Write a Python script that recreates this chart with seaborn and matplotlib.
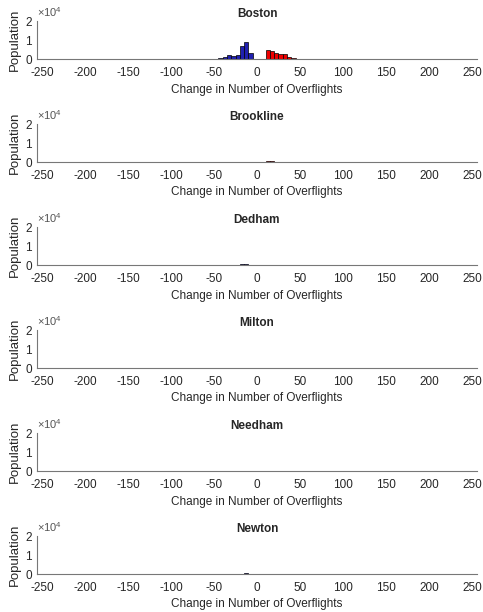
import numpy as np
import pandas as pd
import matplotlib
matplotlib.use("Agg")
import matplotlib.pyplot as plt
import matplotlib.ticker as mticker
import seaborn as sns

# towns shown, top to bottom
towns = ["Boston", "Brookline", "Dedham", "Milton", "Needham", "Newton"]

# histogram bins (width 5) for decreases (blue) and increases (red)
neg_edges = [-45, -40, -35, -30, -25, -20, -15, -10, -5]
pos_edges = [10, 15, 20, 25, 30, 35, 40, 45]

# population per bin
neg_counts = {
    "Boston":    [500, 1300, 2300, 1500, 2300, 6800, 9000, 3000],
    "Brookline": [0, 0, 0, 0, 0, 0, 0, 0],
    "Dedham":    [0, 0, 0, 0, 0, 450, 450, 0],
    "Milton":    [0, 0, 0, 0, 0, 0, 0, 0],
    "Needham":   [0, 0, 0, 0, 0, 0, 0, 0],
    "Newton":    [0, 0, 0, 0, 0, 0, 350, 0],
}
pos_counts = {
    "Boston":    [4500, 4200, 3300, 2700, 2400, 1300, 400],
    "Brookline": [300, 300, 0, 0, 0, 0, 0],
    "Dedham":    [0, 0, 0, 0, 0, 0, 0],
    "Milton":    [0, 0, 0, 0, 0, 0, 0],
    "Needham":   [0, 0, 0, 0, 0, 0, 0],
    "Newton":    [0, 0, 0, 0, 0, 0, 0],
}

sns.set_style("white")
plt.rcParams["font.family"] = ["Liberation Sans", "DejaVu Sans"]
plt.rcParams["font.size"] = 8
plt.rcParams["text.color"] = "#262626"
plt.rcParams["axes.labelcolor"] = "#262626"
plt.rcParams["xtick.color"] = "#262626"
plt.rcParams["ytick.color"] = "#262626"
plt.rcParams["mathtext.default"] = "regular"
plt.rcParams["axes.unicode_minus"] = False

fig = plt.figure(figsize=(4.83, 6.12), dpi=100)
W, H = 483, 612

for i, town in enumerate(towns):
    y_bottom = 59 + i * 103
    ax = fig.add_axes([37 / W, 1 - y_bottom / H, 440 / W, 38 / H])

    neg_df = pd.DataFrame({
        "x": np.array(neg_edges[:-1]) + 2.5,
        "w": neg_counts[town],
    })
    pos_df = pd.DataFrame({
        "x": np.array(pos_edges[:-1]) + 2.5,
        "w": pos_counts[town],
    })
    sns.histplot(data=neg_df, x="x", weights="w", bins=neg_edges, ax=ax,
                 color="#2020b0", edgecolor="black", linewidth=0.5, alpha=1)
    sns.histplot(data=pos_df, x="x", weights="w", bins=pos_edges, ax=ax,
                 color="#ee0000", edgecolor="black", linewidth=0.5, alpha=1)

    ax.set_xlim(-256, 256)
    ax.set_ylim(0, 20000)
    ax.set_xticks(np.arange(-250, 251, 50))
    ax.set_yticks([0, 10000, 20000])
    fmt = mticker.ScalarFormatter(useMathText=True)
    fmt.set_powerlimits((0, 0))
    ax.yaxis.set_major_formatter(fmt)
    ax.yaxis.get_offset_text().set_fontsize(8)
    ax.yaxis.get_offset_text().set_color("#555555")

    ax.tick_params(direction="in", length=3, width=0.6, labelsize=8.5)
    ax.tick_params(axis="x", pad=6)
    ax.tick_params(axis="y", pad=3)
    for side in ["top", "right"]:
        ax.spines[side].set_visible(False)
    for side in ["left", "bottom"]:
        ax.spines[side].set_color("#777777")
        ax.spines[side].set_linewidth(0.8)

    ax.set_title(town, fontsize=8.5, fontweight="bold", pad=3)
    ax.set_xlabel("Change in Number of Overflights", fontsize=8.5, labelpad=3)
    ax.set_ylabel("Population", fontsize=9.5, labelpad=3)

fig.savefig("out.png", dpi=100)
